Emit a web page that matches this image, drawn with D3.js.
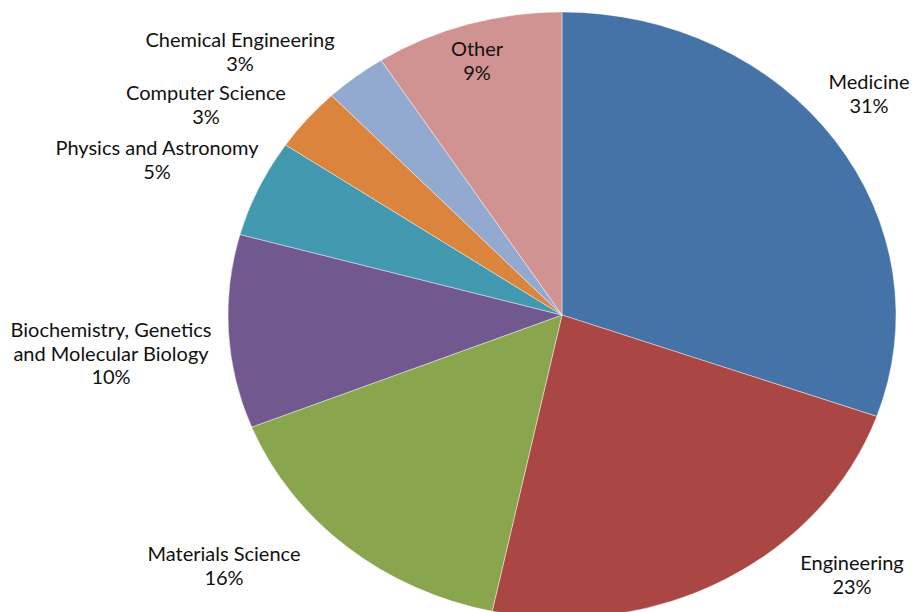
<!DOCTYPE html>
<html lang="en">
<head>
  <meta charset="UTF-8" />
  <script src="https://d3js.org/d3.v7.min.js"></script>
  <title>Subject areas</title>
  <style>
    body { margin: 0; background: #fff; }
    text { font-family: Lato, "Open Sans", sans-serif; fill: #111; }
  </style>
</head>
<body>
<script type="text/javascript">
// subject areas, clockwise from 12 o'clock
var subjects = ["Medicine", "Engineering", "Materials Science",
  "Biochemistry, Genetics|and Molecular Biology", "Physics and Astronomy",
  "Computer Science", "Chemical Engineering", "Other"];
var shares = [30.4, 22.9, 15.6, 10.3, 5.2, 3.4, 3.0, 9.1];
var pctLabels = ["31%", "23%", "16%", "10%", "5%", "3%", "3%", "9%"];
var colors = ["#4572a7", "#aa4643", "#89a54e", "#71588f", "#4198af", "#db843d", "#93a9cf", "#d19392"];

var width = 917, height = 612;
var cx = 562, cy = 315, rx = 334, ry = 303;

// label centres (first line baseline), placed like excel's best fit
var labelAt = [[869, 89], [852, 570], [224, 561], [111, 337], [157, 155], [206, 100], [240, 47], [477, 56]];

var svg = d3.select("body").append("svg").attr("width", width).attr("height", height);

var pie = d3.pie().sort(null).value(function(d){ return d; });
var arc = d3.arc().innerRadius(0).outerRadius(ry);

var g = svg.append("g")
  .attr("transform", "translate(" + cx + "," + cy + ") scale(" + (rx/ry) + ",1)");

g.selectAll("path").data(pie(shares)).enter().append("path")
  .attr("d", arc)
  .attr("fill", function(d,i){ return colors[i]; })
  .attr("stroke", "#fff")
  .attr("stroke-opacity", 0.5)
  .attr("stroke-width", 0.8);

var lineH = 23.5;
svg.selectAll("text.lbl").data(subjects).enter().append("text")
  .attr("class", "lbl")
  .attr("text-anchor", "middle")
  .attr("font-size", 20)
  .attr("x", function(d,i){ return labelAt[i][0]; })
  .attr("y", function(d,i){ return labelAt[i][1]; })
  .each(function(d,i){
    var t = d3.select(this);
    var lines = d.split("|").concat([pctLabels[i]]);
    lines.forEach(function(s, k){
      t.append("tspan").attr("x", labelAt[i][0]).attr("dy", k ? lineH : 0).text(s);
    });
  });
</script>
</body>
</html>
